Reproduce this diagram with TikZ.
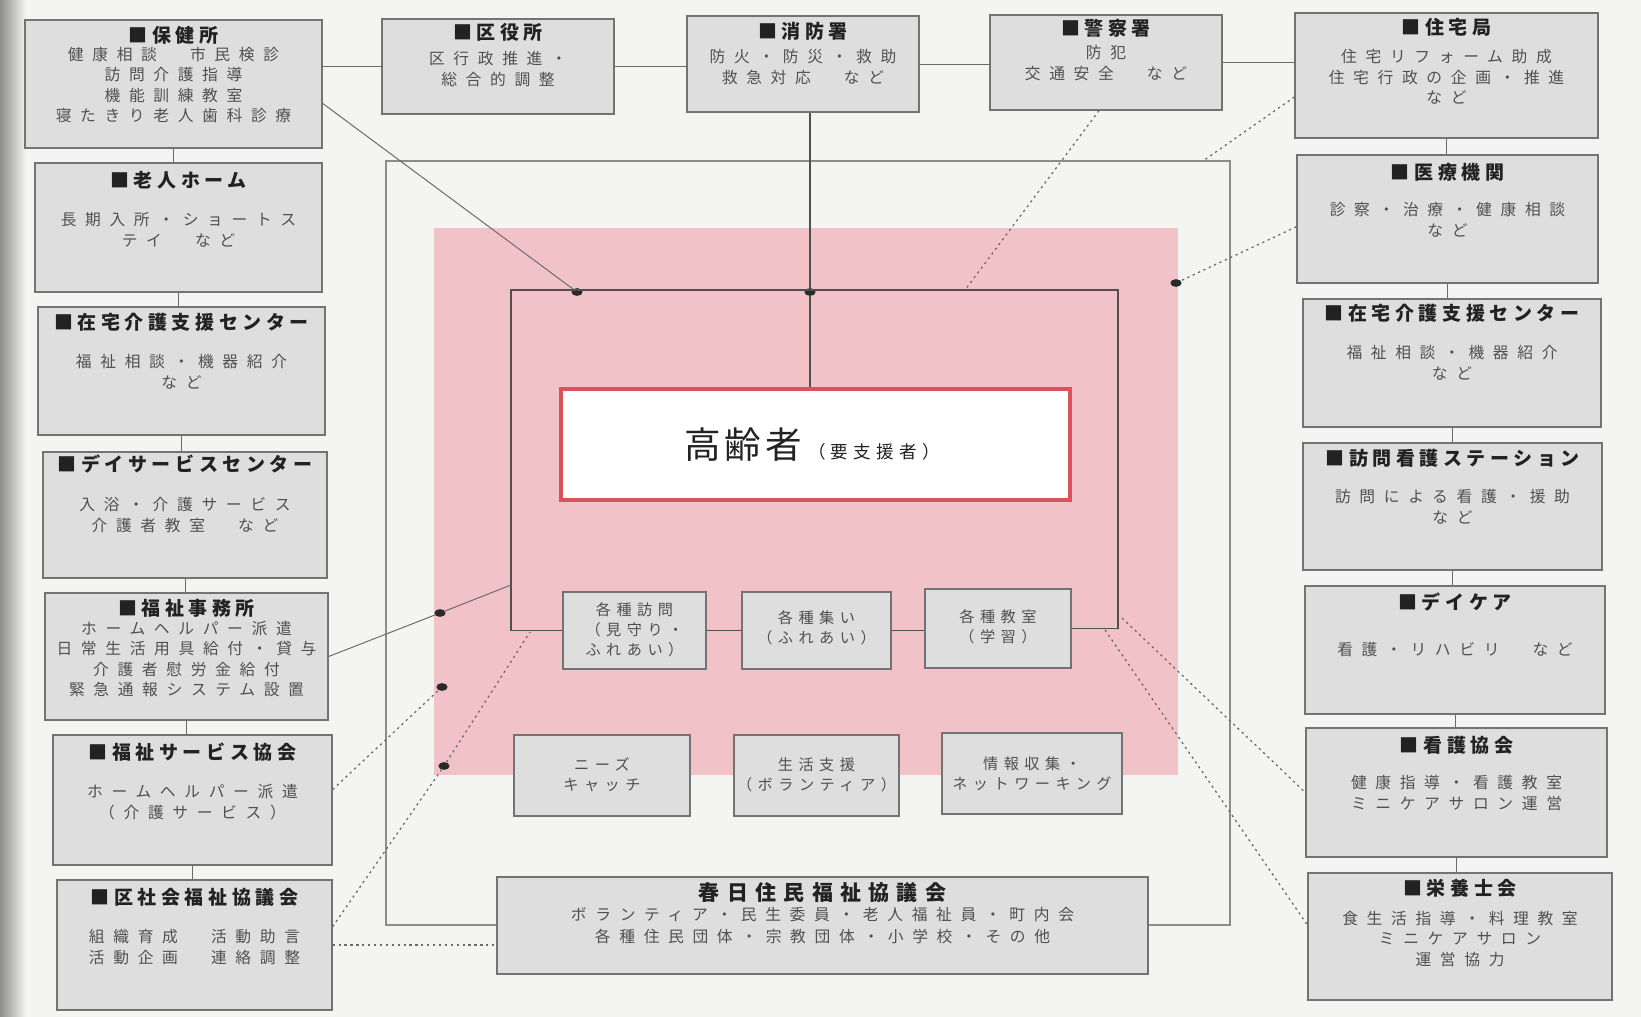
\documentclass[tikz,border=0pt]{standalone}
\usepackage{fontspec}
\setmainfont{Noto Sans CJK JP}
\newfontfamily\jpt[LetterSpace=24]{Noto Sans CJK JP}
\newfontfamily\jptw[LetterSpace=35]{Noto Sans CJK JP}
\newfontfamily\jpb[LetterSpace=55]{Noto Sans CJK JP}
\newfontfamily\jpc[LetterSpace=36]{Noto Sans CJK JP}
\newfontfamily\jpk[LetterSpace=12]{Noto Sans CJK JP}
\newfontfamily\jps[LetterSpace=30]{Noto Sans CJK JP}
\usetikzlibrary{fit,calc,shapes.geometric}
\definecolor{paper}{HTML}{F4F4F2}
\definecolor{shadeL}{HTML}{8E8E8E}
\definecolor{boxfill}{HTML}{DEDEDE}
\definecolor{boxline}{HTML}{737373}
\definecolor{pinkc}{HTML}{F1C3C8}
\definecolor{redc}{HTML}{D9535D}
\definecolor{lineg}{HTML}{6A6A6A}
\definecolor{frameg}{HTML}{8C8C8C}
\definecolor{innerc}{HTML}{505050}
\definecolor{ttlc}{HTML}{222222}
\definecolor{bodyc}{HTML}{505050}
\definecolor{dotc}{HTML}{2A2A2A}
\tikzset{
  box/.style={draw=boxline, fill=boxfill, line width=0.9pt, inner sep=0pt},
  redbox/.style={draw=redc, fill=white!97!paper, line width=2.2pt, inner sep=0pt},
  pinkbg/.style={fill=pinkc, inner sep=0pt},
  ttl/.style={font=\jpt\bfseries\fontsize{13.5}{16}\selectfont, text=ttlc, inner sep=0pt},
  ttlw/.style={font=\jptw\bfseries\fontsize{14.9}{18}\selectfont, text=ttlc, inner sep=0pt},
  bdy/.style={font=\jpb\fontsize{11.2}{14.6}\selectfont, text=bodyc, align=center, inner sep=0pt},
  bdyw/.style={font=\jpb\fontsize{11.2}{15.6}\selectfont, text=bodyc, align=center, inner sep=0pt},
  sml/.style={font=\jpc\fontsize{10.8}{14.2}\selectfont, text=bodyc, align=center, inner sep=0pt},
  conn/.style={draw=lineg, line width=0.7pt},
  connd/.style={draw=innerc, line width=1.1pt},
  dotl/.style={draw=lineg, line width=0.9pt, dash pattern=on 1.6pt off 2.6pt},
  frame/.style={draw=frameg, line width=1.1pt},
  inner/.style={draw=innerc, line width=1.1pt},
  dotn/.style={ellipse, fill=dotc, inner sep=0pt, minimum width=8pt, minimum height=5.5pt}
}
\newcommand\mkbox[5]{\node[box, fit={(#2,#3) (#4,#5)}] (#1) {};}
\newcommand\mktxt[5]{%
  \node[ttl] (#1-t) at (#1.center |- 0,#2) {#3};
  \node[bdy] (#1-b) at (#1.center |- 0,#4) {#5};}
\begin{document}
\begin{tikzpicture}[x=0.025cm,y=-0.025cm]
\useasboundingbox (0,0) rectangle (1641,1017);
\fill[paper] (0,0) rectangle (1641,1017);
\shade[left color=shadeL, right color=paper] (0,0) rectangle (26,1017);

% pink area
\node[pinkbg, fit={(434,228) (1178,775)}] (pink) {};

% frame corner coordinates
\coordinate (obl) at (386,925);
\coordinate (otl) at (386,161);
\coordinate (otr) at (1230,161);
\coordinate (obr) at (1230,925);
\coordinate (ibl) at (511,629);
\coordinate (itl) at (511,290);
\coordinate (itr) at (1118,290);
\coordinate (ibr) at (1118,629);
\coordinate (fe) at (511,585);
\coordinate (ke) at (965,290);
\coordinate (je) at (1203,161);
\coordinate (kx) at (530,632);
\coordinate (ra) at (1105,630);
\coordinate (rb) at (1122,618);

% left column
\mkbox{hoken}{25}{20}{322}{148}
\mkbox{rojin}{35}{163}{322}{292}
\mkbox{zL}{38}{307}{325}{435}
\mkbox{day}{43}{452}{327}{578}
\mkbox{fukushi}{45}{593}{328}{720}
\mkbox{svc}{53}{735}{332}{865}
\mkbox{kusha}{57}{880}{332}{1010}
% top row
\mkbox{kuya}{382}{19}{614}{114}
\mkbox{shobo}{687}{16}{919}{112}
\mkbox{keisatsu}{990}{15}{1222}{110}
\mkbox{jutaku}{1295}{13}{1598}{138}
% right column
\mkbox{iryo}{1297}{155}{1598}{283}
\mkbox{zR}{1303}{299}{1601}{427}
\mkbox{houmon}{1303}{443}{1602}{570}
\mkbox{daycare}{1305}{586}{1605}{714}
\mkbox{kango}{1306}{728}{1607}{857}
\mkbox{eiyo}{1308}{873}{1612}{1000}
% centre
\node[redbox, fit={(561,389) (1070,500)}] (koreisha) {};
\mkbox{v1}{563}{592}{706}{669}
\mkbox{v2}{742}{592}{891}{669}
\mkbox{v3}{925}{589}{1071}{668}
\mkbox{n1}{514}{735}{690}{816}
\mkbox{n2}{734}{735}{899}{816}
\mkbox{n3}{942}{733}{1122}{814}
\mkbox{kasuga}{497}{877}{1148}{974}

% dots
\node[dotn] (d1) at (577,292) {};
\node[dotn] (d2) at (810,292) {};
\node[dotn] (d3) at (1176,283) {};
\node[dotn] (d4) at (440,613) {};
\node[dotn] (d5) at (442,687) {};
\node[dotn] (d6) at (444,766) {};

% outer and inner frames
\draw[frame] (kasuga.west |- obl) -- (obl) -- (otl) -- (otr) -- (obr) -- (kasuga.east |- obr);
\draw[inner] (v1.west) -- (v1.west -| ibl) -- (itl) -- (itr) -- (ibr) -- (v3.east -| ibr) -- (v3.east);
\draw[inner] (v1.east) -- (v1.east -| v2.west);
\draw[inner] (v2.east) -- (v2.east -| v3.west);

% top row links
\draw[conn] (kuya.west) -- (kuya.west -| hoken.east);
\draw[conn] (kuya.east) -- (kuya.east -| shobo.west);
\draw[conn] (shobo.east) -- (shobo.east -| keisatsu.west);
\draw[conn] (keisatsu.east) -- (keisatsu.east -| jutaku.west);
% left column links
\draw[conn] (hoken.south) -- (hoken.south |- rojin.north);
\draw[conn] (rojin.south) -- (rojin.south |- zL.north);
\draw[conn] (zL.south) -- (zL.south |- day.north);
\draw[conn] (day.south) -- (day.south |- fukushi.north);
\draw[conn] (fukushi.south) -- (fukushi.south |- svc.north);
\draw[conn] (svc.south) -- (svc.south |- kusha.north);
% right column links
\draw[conn] (jutaku.south) -- (jutaku.south |- iryo.north);
\draw[conn] (iryo.south) -- (iryo.south |- zR.north);
\draw[conn] (zR.south) -- (zR.south |- houmon.north);
\draw[conn] (houmon.south) -- (houmon.south |- daycare.north);
\draw[conn] (daycare.south) -- (daycare.south |- kango.north);
\draw[conn] (kango.south) -- (kango.south |- eiyo.north);

% links into the centre
\draw[connd] (d2 |- shobo.south) -- (d2) -- (d2 |- koreisha.north);
\draw[conn] ($(hoken.north east)!0.65!(hoken.south east)$) -- (d1);
\draw[conn] (fukushi.east) -- (d4) -- (fe);
\draw[dotl] ($(svc.north east)!0.42!(svc.south east)$) -- (d5);
\draw[dotl] ($(kusha.north east)!0.36!(kusha.south east)$) -- (d6) -- (kx);
\draw[dotl] (kusha.east) -- (kusha.east -| kasuga.west);
\draw[dotl] ($(keisatsu.south west)!0.47!(keisatsu.south east)$) -- (ke);
\draw[dotl] ($(jutaku.north west)!0.67!(jutaku.south west)$) -- (je);
\draw[dotl] ($(iryo.north west)!0.56!(iryo.south west)$) -- (d3);
\draw[dotl] (ra) -- ($(eiyo.north west)!0.41!(eiyo.south west)$);
\draw[dotl] (rb) -- (kango.west);

% texts: left column
\mktxt{hoken}{35}{■保健所}{85}{健康相談　市民検診\\訪問介護指導\\機能訓練教室\\寝たきり老人歯科診療}
\mktxt{rojin}{180}{■老人ホーム}{230}{長期入所・ショートス\\テイ　など}
\mktxt{zL}{322}{■在宅介護支援センター}{372}{福祉相談・機器紹介\\など}
\mktxt{day}{464}{■デイサービスセンター}{515}{入浴・介護サービス\\介護者教室　など}
\mktxt{fukushi}{608}{■福祉事務所}{659}{ホームヘルパー派遣\\日常生活用具給付・貸与\\介護者慰労金給付\\緊急通報システム設置}
\mktxt{svc}{752}{■福祉サービス協会}{802}{ホームヘルパー派遣\\（介護サービス）}
\mktxt{kusha}{897}{■区社会福祉協議会}{947}{組織育成　活動助言\\活動企画　連絡調整}
% top row
\mktxt{kuya}{32}{■区役所}{69}{区行政推進・\\総合的調整}
\mktxt{shobo}{31}{■消防署}{67}{防火・防災・救助\\救急対応　など}
\mktxt{keisatsu}{28}{■警察署}{63}{防犯\\交通安全　など}
\mktxt{jutaku}{27}{■住宅局}{77}{住宅リフォーム助成\\住宅行政の企画・推進\\など}
% right column
\mktxt{iryo}{172}{■医療機関}{220}{診察・治療・健康相談\\など}
\mktxt{zR}{313}{■在宅介護支援センター}{363}{福祉相談・機器紹介\\など}
\mktxt{houmon}{458}{■訪問看護ステーション}{507}{訪問による看護・援助\\など}
\mktxt{daycare}{602}{■デイケア}{650}{看護・リハビリ　など}
\mktxt{kango}{745}{■看護協会}{793}{健康指導・看護教室\\ミニケアサロン運営}
\mktxt{eiyo}{888}{■栄養士会}{939}{食生活指導・料理教室\\ミニケアサロン\\運営協力}

% centre texts
\node[inner sep=0pt, text=ttlc] (koreisha-t) at (812,445)
  {{\jpk\fontsize{26}{30}\selectfont 高齢者}\hspace{4pt}{\jps\fontsize{12.5}{15}\selectfont （要支援者）}};
\node[sml] (v1-t) at (v1.center |- 0,630) {各種訪問\\（見守り・\\ふれあい）};
\node[sml] (v2-t) at (v2.center |- 0,628) {各種集い\\（ふれあい）};
\node[sml] (v3-t) at (v3.center |- 0,627) {各種教室\\（学習）};
\node[sml] (n1-t) at (n1.center |- 0,775) {ニーズ\\キャッチ};
\node[sml] (n2-t) at (n2.center |- 0,775) {生活支援\\（ボランティア）};
\node[sml] (n3-t) at (n3.center |- 0,774) {情報収集・\\ネットワーキング};
\node[ttlw] (kasuga-t) at (kasuga.center |- 0,893) {春日住民福祉協議会};
\node[bdyw] (kasuga-b) at (kasuga.center |- 0,926) {ボランティア・民生委員・老人福祉員・町内会\\各種住民団体・宗教団体・小学校・その他};
\end{tikzpicture}
\end{document}
